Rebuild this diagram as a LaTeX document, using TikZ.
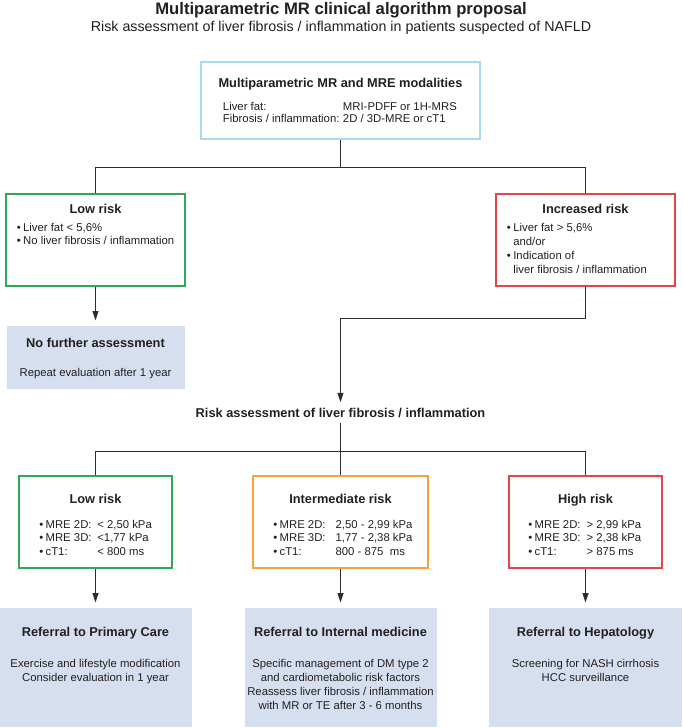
\documentclass[tikz,border=0pt]{standalone}
\usepackage{fontspec}
\setmainfont{Liberation Sans}
\usetikzlibrary{arrows.meta}
\definecolor{txtgray}{RGB}{35,31,32}
\definecolor{linegray}{RGB}{45,45,45}
\definecolor{boxblue}{RGB}{170,216,238}
\definecolor{riskgreen}{RGB}{46,170,84}
\definecolor{riskred}{RGB}{232,66,74}
\definecolor{riskorange}{RGB}{246,162,62}
\definecolor{reffill}{RGB}{214,223,239}
\tikzset{
  titletxt/.style={inner sep=0,text=txtgray,font=\fontsize{12.5}{15}\selectfont\bfseries},
  subtxt/.style={inner sep=0,text=txtgray,font=\fontsize{10.7}{13}\selectfont},
  headtxt/.style={inner sep=0,text=txtgray,font=\fontsize{9.6}{11.5}\selectfont\bfseries},
  bodytxt/.style={inner sep=0,text=txtgray,font=\fontsize{8.5}{10.5}\selectfont},
  riskbox/.style={draw=#1,line width=1.4pt,inner sep=0},
  refbox/.style={fill=reffill,inner sep=0},
  conn/.style={draw=linegray,line width=0.75pt},
  arr/.style={conn,-{Triangle[length=7pt,width=4.5pt]},shorten >=4pt},
}
\begin{document}
\begin{tikzpicture}[x=0.75pt,y=0.75pt,yscale=-1,xscale=1]
\useasboundingbox (0,0) rectangle (682,728);

%Text: title
\node[titletxt,anchor=base] (ttl) at (341,14.5) {Multiparametric MR clinical algorithm proposal};
\node[subtxt,anchor=base] (subttl) at (341,31.5) {Risk assessment of liver fibrosis / inflammation in patients suspected of NAFLD};

%Shape: Rectangle modalities
\node[riskbox=boxblue,minimum width=209.6pt,minimum height=57.75pt] (modal) at (340.5,100.5) {};
\node[headtxt,anchor=base] (modalhd) at (340.5,87.8) {Multiparametric MR and MRE modalities};
\node[bodytxt,anchor=base west,font=\fontsize{8.5}{9.2}\selectfont] (modaltxt) at (222.7,110) {\begin{tabular}[t]{@{}p{90pt}@{}l@{}}Liver fat: & MRI-PDFF or 1H-MRS\\ Fibrosis / inflammation: & 2D / 3D-MRE or cT1\end{tabular}};

%Shape: Rectangle low risk (fat)
\node[riskbox=riskgreen,minimum width=133.9pt,minimum height=69.6pt] (lowfat) at (95.5,240) {};
\node[headtxt,anchor=base] (lowfathd) at (95.5,213.8) {Low risk};
\node[bodytxt,anchor=base west,font=\fontsize{8.5}{10}\selectfont] (lowfattxt) at (16.5,231.5) {\begin{tabular}[t]{@{}l@{\hspace{1.8pt}}l@{}}\textbullet & Liver fat < 5,6\%\\ \textbullet & No liver fibrosis / inflammation\end{tabular}};

%Shape: Rectangle increased risk
\node[riskbox=riskred,minimum width=133.9pt,minimum height=69.6pt] (incfat) at (585.5,240) {};
\node[headtxt,anchor=base] (incfathd) at (585.5,213.8) {Increased risk};
\node[bodytxt,anchor=base west] (incfattxt) at (506.7,231.5) {\begin{tabular}[t]{@{}l@{\hspace{1.8pt}}l@{}}\textbullet & Liver fat > 5,6\%\\ & and/or\\ \textbullet & Indication of\\ & liver fibrosis / inflammation\end{tabular}};

%Shape: Rectangle no further assessment
\node[refbox,minimum width=133.5pt,minimum height=47.25pt] (nofurther) at (95.5,357.5) {};
\node[headtxt,anchor=base] (nofurtherhd) at (95.5,347) {No further assessment};
\node[bodytxt,anchor=base] (nofurthertxt) at (95.5,376.7) {Repeat evaluation after 1 year};

%Text: second assessment
\node[headtxt,anchor=base] (assess) at (340.5,417) {Risk assessment of liver fibrosis / inflammation};

%Shape: Rectangle low / intermediate / high risk
\node[riskbox=riskgreen,minimum width=114.5pt,minimum height=69pt] (lowfib) at (95.5,522) {};
\node[riskbox=riskorange,minimum width=131.5pt,minimum height=69pt] (midfib) at (340.5,522) {};
\node[riskbox=riskred,minimum width=114.3pt,minimum height=69pt] (highfib) at (585.5,522) {};
\node[headtxt,anchor=base] (lowfibhd) at (95.5,503) {Low risk};
\node[headtxt,anchor=base] (midfibhd) at (340.5,503) {Intermediate risk};
\node[headtxt,anchor=base] (highfibhd) at (585.5,503) {High risk};
\node[bodytxt,anchor=base west,font=\fontsize{8.5}{10.2}\selectfont] (lowfibtxt) at (39,528) {\begin{tabular}[t]{@{}l@{\hspace{1.8pt}}p{38.8pt}@{}l@{}}\textbullet & MRE 2D: & < 2,50 kPa\\ \textbullet & MRE 3D: & <1,77 kPa\\ \textbullet & cT1: & < 800 ms\end{tabular}};
\node[bodytxt,anchor=base west,font=\fontsize{8.5}{10.2}\selectfont] (midfibtxt) at (273,528) {\begin{tabular}[t]{@{}l@{\hspace{1.8pt}}p{42pt}@{}l@{}}\textbullet & MRE 2D: & 2,50 - 2,99 kPa\\ \textbullet & MRE 3D: & 1,77 - 2,38 kPa\\ \textbullet & cT1: & 800 - 875\ \ ms\end{tabular}};
\node[bodytxt,anchor=base west,font=\fontsize{8.5}{10.2}\selectfont] (highfibtxt) at (528,528) {\begin{tabular}[t]{@{}l@{\hspace{1.8pt}}p{39pt}@{}l@{}}\textbullet & MRE 2D: & > 2,99 kPa\\ \textbullet & MRE 3D: & > 2,38 kPa\\ \textbullet & cT1: & > 875 ms\end{tabular}};

%Shape: Rectangle referrals
\node[refbox,minimum width=144.5pt,minimum height=89.25pt] (refpc) at (95.5,667.5) {};
\node[refbox,minimum width=144pt,minimum height=89.25pt] (refim) at (340.5,667.5) {};
\node[refbox,minimum width=144.75pt,minimum height=89.25pt] (refhep) at (585.5,667.5) {};
\node[headtxt,anchor=base] (refpchd) at (95.5,636) {Referral to Primary Care};
\node[headtxt,anchor=base] (refimhd) at (340.5,636) {Referral to Internal medicine};
\node[headtxt,anchor=base] (refhephd) at (585.5,636) {Referral to Hepatology};
\node[bodytxt,anchor=base] (refpctxt) at (95.5,667) {\begin{tabular}[t]{@{}c@{}}Exercise and lifestyle modification\\ Consider evaluation in 1 year\end{tabular}};
\node[bodytxt,anchor=base] (refimtxt) at (340.5,667) {\begin{tabular}[t]{@{}c@{}}Specific management of DM type 2\\ and cardiometabolic risk factors\\ Reassess liver fibrosis / inflammation\\ with MR or TE after 3 - 6 months\end{tabular}};
\node[bodytxt,anchor=base] (refheptxt) at (585.5,667) {\begin{tabular}[t]{@{}c@{}}Screening for NASH cirrhosis\\ HCC surveillance\end{tabular}};

%Straight Lines
\coordinate (split1) at (340.5,167.5);
\draw[conn] (modal.south) -- (split1);
\draw[conn] (split1) -| (lowfat.north);
\draw[conn] (split1) -| (incfat.north);
\draw[arr] (lowfat.south) -- (nofurther.north);
\coordinate (bend1) at (340.5,318.5);
\draw[arr] (incfat.south) |- (bend1) -| (assess.north);
\coordinate (split2) at (340.5,451.5);
\draw[conn,shorten <=4pt] (assess.south -| split2) -- (split2);
\draw[conn] (split2) -| (lowfib.north);
\draw[conn] (split2) -| (highfib.north);
\draw[conn] (split2) -- (midfib.north);
\draw[arr] (lowfib.south) -- (refpc.north);
\draw[arr] (midfib.south) -- (refim.north);
\draw[arr] (highfib.south) -- (refhep.north);

\end{tikzpicture}
\end{document}
